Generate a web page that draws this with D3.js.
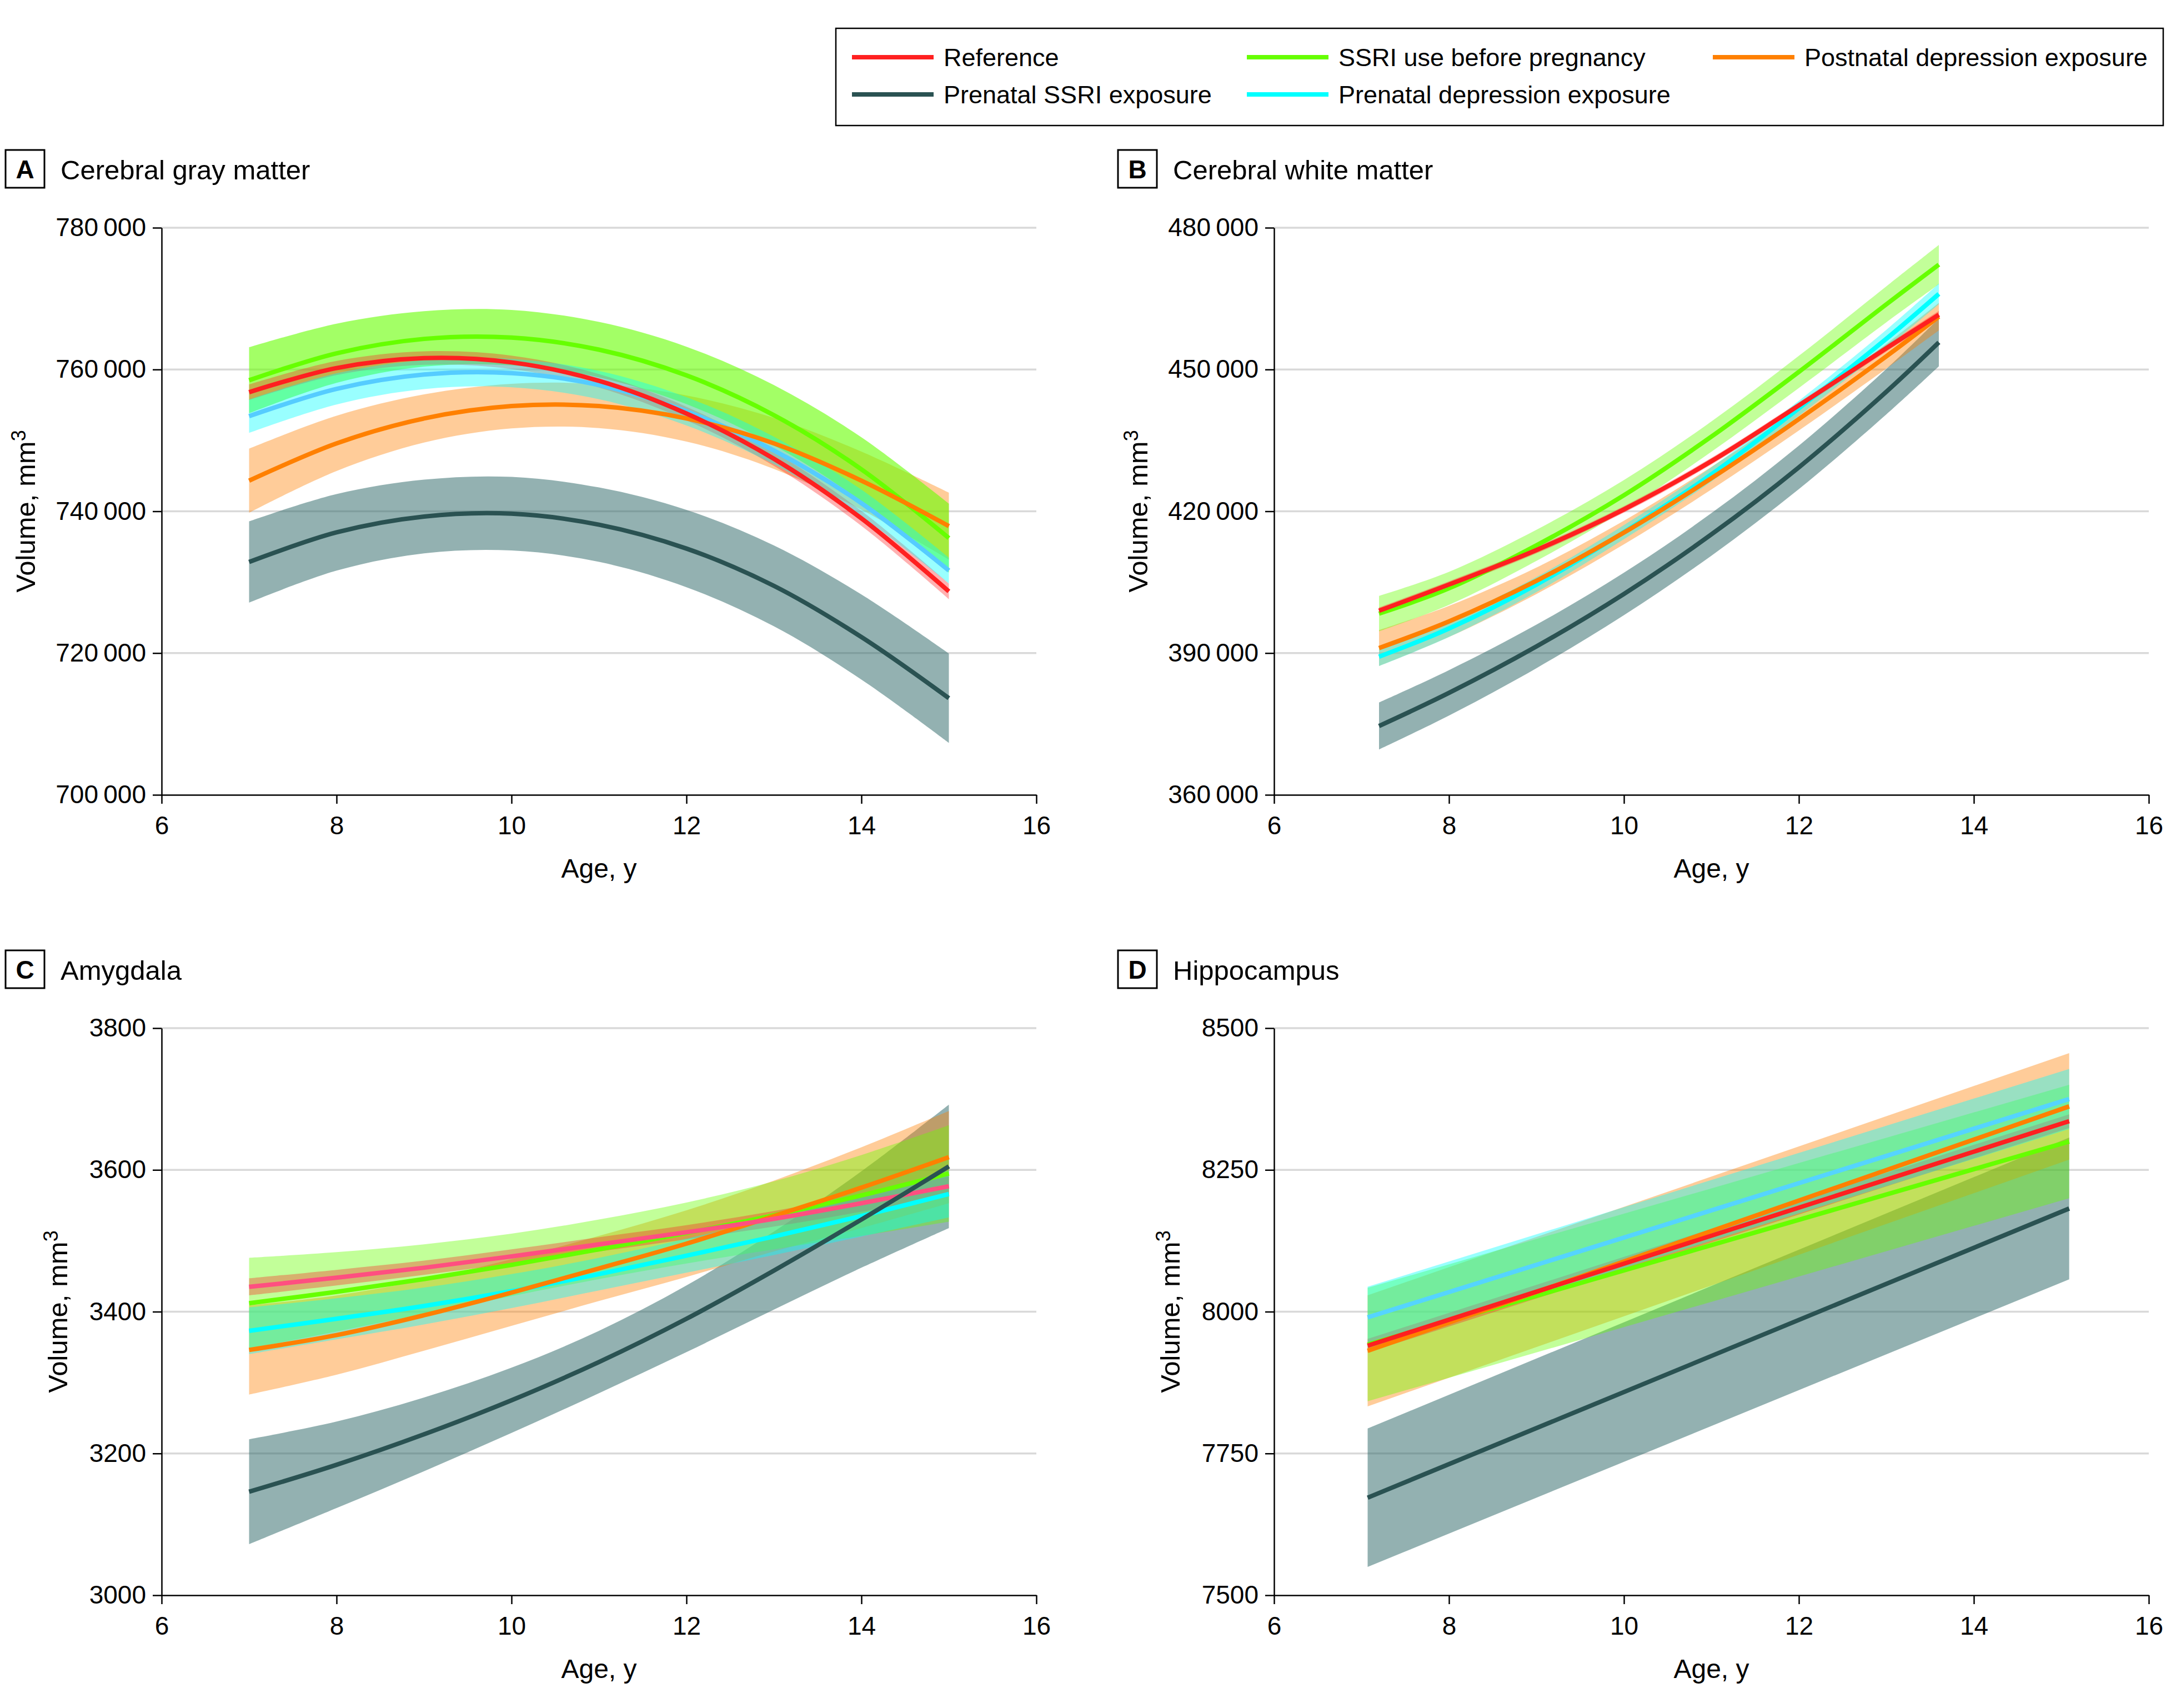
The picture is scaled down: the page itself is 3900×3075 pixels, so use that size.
<!DOCTYPE html>
<html><head><meta charset="utf-8">
<script src="https://cdn.jsdelivr.net/npm/d3@7"></script>
<style>
body{margin:0;background:#fff}
svg{display:block}
text{font-family:"Liberation Sans",Arial,sans-serif;fill:#000}
</style>
</head><body>
<svg id="chart" width="3900" height="3075"></svg>
<script>
// ---------------- DATA ----------------
const groupKeys = ["ref", "pre", "post", "ssri", "dep"];
const groupLabels = {
  ref: "Reference",
  pre: "SSRI use before pregnancy",
  post: "Postnatal depression exposure",
  ssri: "Prenatal SSRI exposure",
  dep: "Prenatal depression exposure"
};
const legendRows = [["ref", "pre", "post"], ["ssri", "dep"]];

const panelLetters = ["A", "B", "C", "D"];
const panelTitles = ["Cerebral gray matter", "Cerebral white matter", "Amygdala", "Hippocampus"];

const xTicks = [6, 8, 10, 12, 14, 16];
const yTicksA = [700000, 720000, 740000, 760000, 780000];
const yTicksB = [360000, 390000, 420000, 450000, 480000];
const yTicksC = [3000, 3200, 3400, 3600, 3800];
const yTicksD = [7500, 7750, 8000, 8250, 8500];

// ages at which curves were read
const agesA = [7, 8, 9, 10, 11, 12, 13, 14, 15];
const agesB = [7.2, 8, 9, 10, 11, 12, 13, 13.6];
const agesC = [7, 8, 9, 10, 11, 12, 13, 14, 15];
const agesD = [7.07, 15.09];

// Panel A – cerebral gray matter (mean, CI half-width)
const A_ref_mean  = [756800, 760210, 761610, 761010, 758400, 753790, 747400, 739000, 728700];
const A_ref_ci    = [1100, 1000, 950, 950, 950, 950, 1000, 1050, 1100];
const A_pre_mean  = [758480, 762290, 764320, 764500, 762800, 759170, 753560, 745920, 736220];
const A_pre_ci    = [4650, 4180, 3910, 3910, 3910, 4050, 4250, 4520, 4860];
const A_post_mean = [744320, 749580, 753090, 754840, 754840, 753090, 749580, 744320, 737910];
const A_post_ci   = [4520, 3900, 3400, 3150, 3100, 3250, 3600, 4100, 4720];
const A_ssri_mean = [732850, 737030, 739260, 739660, 738110, 734740, 729480, 722260, 713630];
const A_ssri_ci   = [5730, 5400, 5200, 5190, 5250, 5450, 5700, 6000, 6300];
const A_dep_mean  = [753420, 757270, 759290, 759490, 757810, 754100, 748570, 741150, 731640];
const A_dep_ci    = [2360, 2200, 2050, 2000, 2000, 2000, 1950, 1900, 1820];

// Panel B – cerebral white matter
const B_ref_mean  = [398950, 404500, 411800, 420400, 430600, 442400, 454500, 461600];
const B_ref_ci    = [700, 700, 700, 700, 700, 700, 700, 800];
const B_pre_mean  = [398350, 403700, 412800, 423400, 435800, 449500, 463800, 472200];
const B_pre_ci    = [3750, 3500, 3300, 3200, 3200, 3400, 3800, 4150];
const B_post_mean = [391060, 396700, 405300, 415500, 427000, 439500, 452800, 461200];
const B_post_ci   = [3800, 3300, 2800, 2500, 2400, 2400, 2600, 2900];
const B_ssri_mean = [374570, 381580, 391410, 402510, 415110, 429310, 445310, 455750];
const B_ssri_ci   = [4960, 4800, 4600, 4500, 4500, 4600, 4800, 5060];
const B_dep_mean  = [389240, 395200, 404500, 415600, 427800, 441800, 456500, 466000];
const B_dep_ci    = [2000, 1800, 1600, 1500, 1500, 1600, 1900, 2200];

// Panel C – amygdala
const C_ref_mean  = [3435, 3448, 3462, 3478, 3495, 3512, 3531, 3553, 3577];
const C_ref_ci    = [12, 11, 10, 10, 10, 10, 11, 12, 14];
const C_pre_mean  = [3412, 3428, 3446, 3466, 3488, 3511, 3536, 3564, 3595];
const C_pre_ci    = [64, 56, 49, 44, 42, 43, 48, 57, 68];
const C_post_mean = [3346, 3367, 3395, 3427, 3461, 3496, 3535, 3575, 3618];
const C_post_ci   = [63, 56, 50, 47, 46, 47, 50, 57, 65];
const C_ssri_mean = [3146, 3184, 3227, 3275, 3329, 3390, 3458, 3530, 3605];
const C_ssri_ci   = [74, 61, 52, 46, 44, 47, 55, 68, 87];
const C_dep_mean  = [3373, 3390, 3408, 3429, 3453, 3479, 3506, 3535, 3566];
const C_dep_ci    = [33, 29, 26, 24, 23, 24, 26, 29, 33];

// Panel D – hippocampus
const D_ref_mean  = [7940, 8336];
const D_ref_ci    = [12, 12];
const D_pre_mean  = [7942, 8300];
const D_pre_ci    = [100, 100];
const D_post_mean = [7931, 8362];
const D_post_ci   = [98, 94];
const D_ssri_mean = [7672, 8182];
const D_ssri_ci   = [122, 125];
const D_dep_mean  = [7990, 8375];
const D_dep_ci    = [54, 53];

// ---------------- STYLE ----------------
const lineColor = {ref: "#ff2020", pre: "#66ff00", post: "#ff8000", ssri: "#2a5252", dep: "#00ffff"};
const bandColor = {ref: "#ff2020", pre: "#66ff00", post: "#ff8000", ssri: "#286464", dep: "#00ffff"};
const bandOpacity = {ref: 0.35, pre: 0.4, post: 0.4, ssri: 0.5, dep: 0.4};
const panelLineOverride = [{dep: "#55ccff"}, {}, {ref: "#ff4f80"}, {dep: "#55d4ff"}];
const panelBandOpacityOverride = [{pre: 0.6}, {}, {}, {}];
const bandOrder = ["ssri", "post", "pre", "ref", "dep"];
const lineOrder = ["dep", "pre", "post", "ref", "ssri"];

const panels = [
  {ages: agesA, yTicks: yTicksA, col: 0, row: 0,
   s: {ref: [A_ref_mean, A_ref_ci], pre: [A_pre_mean, A_pre_ci], post: [A_post_mean, A_post_ci], ssri: [A_ssri_mean, A_ssri_ci], dep: [A_dep_mean, A_dep_ci]}},
  {ages: agesB, yTicks: yTicksB, col: 1, row: 0,
   s: {ref: [B_ref_mean, B_ref_ci], pre: [B_pre_mean, B_pre_ci], post: [B_post_mean, B_post_ci], ssri: [B_ssri_mean, B_ssri_ci], dep: [B_dep_mean, B_dep_ci]}},
  {ages: agesC, yTicks: yTicksC, col: 0, row: 1,
   s: {ref: [C_ref_mean, C_ref_ci], pre: [C_pre_mean, C_pre_ci], post: [C_post_mean, C_post_ci], ssri: [C_ssri_mean, C_ssri_ci], dep: [C_dep_mean, C_dep_ci]}},
  {ages: agesD, yTicks: yTicksD, col: 1, row: 1,
   s: {ref: [D_ref_mean, D_ref_ci], pre: [D_pre_mean, D_pre_ci], post: [D_post_mean, D_post_ci], ssri: [D_ssri_mean, D_ssri_ci], dep: [D_dep_mean, D_dep_ci]}}
];

const W = 3900, H = 3075;
const colX = [291, 2294], rowY = [410, 1851];
const plotW = 1575, plotH = 1021;

const locale = d3.formatLocale({decimal: ".", thousands: "\u2009", grouping: [3], currency: ["", ""]});
const fmtBig = locale.format(",d");
const fmtTick = v => v >= 10000 ? fmtBig(v) : d3.format("d")(v);

const svg = d3.select("#chart");
svg.append("rect").attr("width", W).attr("height", H).attr("fill", "#fff");

panels.forEach((p, i) => {
  const x0 = colX[p.col], x1 = x0 + plotW;
  const y0 = rowY[p.row], y1 = y0 + plotH;
  const x = d3.scaleLinear().domain([6, 16]).range([x0, x1]);
  const y = d3.scaleLinear().domain(d3.extent(p.yTicks)).range([y1, y0]);
  const g = svg.append("g");

  // gridlines
  g.append("g").selectAll("line").data(p.yTicks.slice(1)).join("line")
    .attr("x1", x0).attr("x2", x1)
    .attr("y1", d => y(d)).attr("y2", d => y(d))
    .attr("stroke", "#d9d9d9").attr("stroke-width", 3.5);

  const rows = k => p.ages.map((a, j) => ({a, m: p.s[k][0][j], c: p.s[k][1][j]}));
  const curve = d3.curveCatmullRom.alpha(0.5);
  const area = d3.area().x(d => x(d.a)).y0(d => y(d.m - d.c)).y1(d => y(d.m + d.c)).curve(curve);
  const line = d3.line().x(d => x(d.a)).y(d => y(d.m)).curve(curve);

  bandOrder.forEach(k => {
    const op = (panelBandOpacityOverride[i][k] !== undefined) ? panelBandOpacityOverride[i][k] : bandOpacity[k];
    g.append("path").attr("d", area(rows(k)))
      .attr("fill", bandColor[k]).attr("fill-opacity", op).attr("stroke", "none");
  });
  lineOrder.forEach(k => {
    const col = panelLineOverride[i][k] || lineColor[k];
    g.append("path").attr("d", line(rows(k)))
      .attr("fill", "none").attr("stroke", col).attr("stroke-width", 8);
  });

  // axes
  const ya = g.append("g").attr("transform", `translate(${x0},0)`)
    .call(d3.axisLeft(y).tickValues(p.yTicks).tickSize(16).tickSizeOuter(0).tickPadding(12).tickFormat(fmtTick));
  const xa = g.append("g").attr("transform", `translate(0,${y1})`)
    .call(d3.axisBottom(x).tickValues(xTicks).tickSize(16).tickSizeOuter(0).tickPadding(22).tickFormat(d3.format("d")));
  [ya, xa].forEach(a => {
    a.select(".domain").attr("stroke", "#000").attr("stroke-width", 2.5);
    a.selectAll(".tick line").attr("stroke", "#000").attr("stroke-width", 2.5);
    a.selectAll("text").attr("font-size", 46).attr("font-family", '"Liberation Sans",Arial,sans-serif').attr("fill", "#000");
  });

  // axis titles
  g.append("text").attr("x", (x0 + x1) / 2).attr("y", y1 + 149)
    .attr("text-anchor", "middle").attr("font-size", 48).text("Age, y");
  const yl = g.append("text")
    .attr("transform", `translate(${x0 - (p.row === 0 ? 228 : 170)},${(y0 + y1) / 2}) rotate(-90)`)
    .attr("text-anchor", "middle").attr("font-size", 49);
  yl.append("tspan").text("Volume, mm");
  yl.append("tspan").attr("font-size", 36).attr("dy", -17).text("3");

  // panel title
  g.append("rect").attr("x", x0 - 281).attr("y", y0 - 140).attr("width", 70).attr("height", 68)
    .attr("fill", "none").attr("stroke", "#000").attr("stroke-width", 3);
  g.append("text").attr("x", x0 - 246).attr("y", y0 - 89).attr("text-anchor", "middle")
    .attr("font-size", 46).attr("font-weight", "bold").text(panelLetters[i]);
  g.append("text").attr("x", x0 - 182).attr("y", y0 - 87).attr("font-size", 49).text(panelTitles[i]);
});

// legend
const lg = svg.append("g");
lg.append("rect").attr("x", 1505).attr("y", 51).attr("width", 2390).attr("height", 175)
  .attr("fill", "#fff").attr("stroke", "#000").attr("stroke-width", 2.5);
const legColX = [1534, 2245, 3084];
const legRowY = [103, 170];
legendRows.forEach((row, r) => row.forEach((k, c) => {
  lg.append("line").attr("x1", legColX[c]).attr("x2", legColX[c] + 147)
    .attr("y1", legRowY[r]).attr("y2", legRowY[r])
    .attr("stroke", lineColor[k]).attr("stroke-width", 8);
  lg.append("text").attr("x", legColX[c] + 165).attr("y", legRowY[r] + 16)
    .attr("font-size", 45).text(groupLabels[k]);
}));
</script>
</body></html>
